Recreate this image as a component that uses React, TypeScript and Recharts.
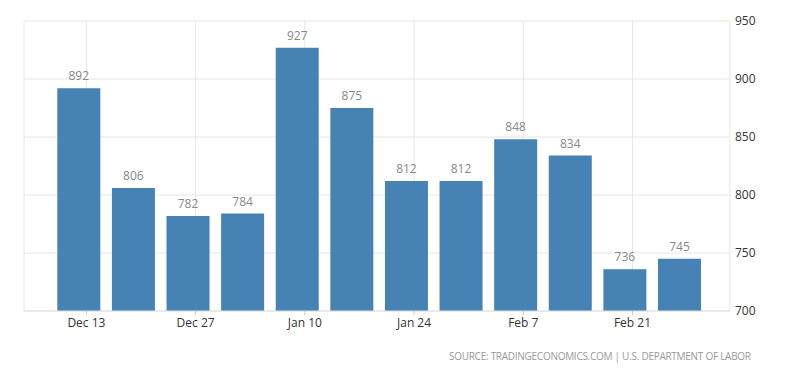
import React from "react";
import { BarChart, Bar, XAxis, YAxis, CartesianGrid, LabelList } from "recharts";

const weekEnding = [
  "2020-12-12", "2020-12-19", "2020-12-26", "2021-01-02", "2021-01-09", "2021-01-16",
  "2021-01-23", "2021-01-30", "2021-02-06", "2021-02-13", "2021-02-20", "2021-02-27",
];
const claims = [892, 806, 782, 784, 927, 875, 812, 812, 848, 834, 736, 745];
const tickDates = ["2020-12-13", "2020-12-27", "2021-01-10", "2021-01-24", "2021-02-07", "2021-02-21"];
const tickLabels = ["Dec 13", "Dec 27", "Jan 10", "Jan 24", "Feb 7", "Feb 21"];
const yTicks = [700, 750, 800, 850, 900, 950];

const DAY = 86400000;
const origin = Date.parse(weekEnding[0] + "T00:00:00Z");
const toDay = (s: string) => Math.round((Date.parse(s + "T00:00:00Z") - origin) / DAY);

const data = weekEnding.map((d, i) => ({ day: toDay(d), value: claims[i] }));
const xTicks = tickDates.map(toDay);
const labelFor = (v: number) => {
  const i = xTicks.indexOf(v);
  return i >= 0 ? tickLabels[i] : "";
};

const FONT = "'Open Sans', sans-serif";

export default function App() {
  return (
    <div style={{ position: "absolute", left: 0, top: 0, width: 800, height: 373, background: "#fff" }}>
      <BarChart
        width={800}
        height={373}
        data={data}
        margin={{ top: 21, right: 0, bottom: 32, left: 24 }}
      >
        <CartesianGrid stroke="#e6e6e6" vertical={true} horizontal={true} />
        <XAxis
          dataKey="day"
          type="number"
          domain={[-7, 83.5]}
          ticks={xTicks}
          tickFormatter={labelFor}
          height={30}
          axisLine={{ stroke: "#e0e0e0" }}
          tickLine={{ stroke: "#cccccc" }}
          tickSize={4}
          tickMargin={3}
          tick={{ fill: "#333333", fontSize: 12, fontFamily: FONT }}
          allowDataOverflow
        />
        <YAxis
          orientation="right"
          domain={[700, 950]}
          ticks={yTicks}
          width={70}
          axisLine={false}
          tickLine={false}
          tickSize={3}
          tickMargin={2}
          tick={{ fill: "#333333", fontSize: 12, fontFamily: FONT, textAnchor: "start" }}
          allowDataOverflow
        />
        <Bar dataKey="value" fill="#4682b4" barSize={43} isAnimationActive={false}>
          <LabelList
            dataKey="value"
            position="top"
            offset={8}
            fill="#888888"
            fontSize={12}
            fontFamily={FONT}
          />
        </Bar>
      </BarChart>
      <svg width={800} height={373} style={{ position: "absolute", left: 0, top: 0, pointerEvents: "none" }}>
        <text
          x={751}
          y={359.5}
          textAnchor="end"
          fill="#999999"
          fontSize={10}
          fontFamily={FONT}
          textLength={302}
          lengthAdjust="spacing"
        >
          SOURCE: TRADINGECONOMICS.COM | U.S. DEPARTMENT OF LABOR
        </text>
      </svg>
    </div>
  );
}
